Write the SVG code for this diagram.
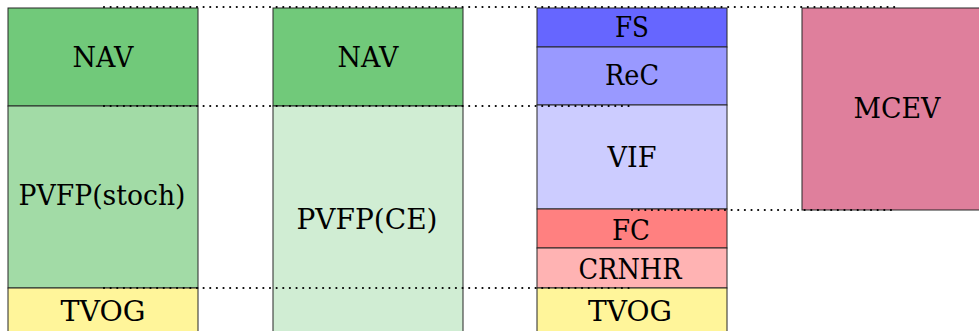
<svg xmlns="http://www.w3.org/2000/svg" width="979" height="331" viewBox="0 0 979 331">
<style>
.box{stroke:#262626;stroke-width:1}
.t{font-family:"DejaVu Serif",serif;font-size:27px;fill:#000;text-anchor:middle}
.dot{stroke:#000;stroke-width:2.2;stroke-dasharray:0 6.64;stroke-linecap:round;fill:none}
</style>
<rect width="979" height="331" fill="#fff"/>
<g id="col1-nav"><rect class="box" x="8" y="8" width="190" height="98" fill="#71C97A"/><text class="t" x="103" y="67" textLength="61" lengthAdjust="spacingAndGlyphs">NAV</text></g>
<g id="col1-pvfp"><rect class="box" x="8" y="106" width="190" height="182" fill="#A2DBA6"/><text class="t" x="102" y="205" textLength="167" lengthAdjust="spacingAndGlyphs">PVFP(stoch)</text></g>
<g id="col1-tvog"><rect class="box" x="8" y="288" width="190" height="60" fill="#FFF59A"/><text class="t" x="103" y="321" textLength="85" lengthAdjust="spacingAndGlyphs">TVOG</text></g>
<g id="col2-nav"><rect class="box" x="273" y="8" width="190" height="98" fill="#71C97A"/><text class="t" x="368" y="67" textLength="61" lengthAdjust="spacingAndGlyphs">NAV</text></g>
<g id="col2-pvfp"><rect class="box" x="273" y="106" width="190" height="242" fill="#D0EDD3"/><text class="t" x="367" y="229" textLength="141" lengthAdjust="spacingAndGlyphs">PVFP(CE)</text></g>
<g id="col3-fs"><rect class="box" x="537" y="8" width="190" height="39" fill="#6666FF"/><text class="t" x="632" y="37" textLength="34" lengthAdjust="spacingAndGlyphs">FS</text></g>
<g id="col3-rec"><rect class="box" x="537" y="47" width="190" height="58" fill="#9999FF"/><text class="t" x="632" y="85" textLength="54" lengthAdjust="spacingAndGlyphs">ReC</text></g>
<g id="col3-vif"><rect class="box" x="537" y="105" width="190" height="104" fill="#CCCCFF"/><text class="t" x="632" y="167" textLength="49" lengthAdjust="spacingAndGlyphs">VIF</text></g>
<g id="col3-fc"><rect class="box" x="537" y="209" width="190" height="39" fill="#FF8080"/><text class="t" x="631" y="240" textLength="38" lengthAdjust="spacingAndGlyphs">FC</text></g>
<g id="col3-crnhr"><rect class="box" x="537" y="248" width="190" height="40" fill="#FFB3B3"/><text class="t" x="630" y="279" textLength="103" lengthAdjust="spacingAndGlyphs">CRNHR</text></g>
<g id="col3-tvog"><rect class="box" x="537" y="288" width="190" height="60" fill="#FFF59A"/><text class="t" x="630" y="321" textLength="84" lengthAdjust="spacingAndGlyphs">TVOG</text></g>
<g id="col4-mcev"><rect class="box" x="802" y="8" width="190" height="202" fill="#DF7F9C"/><text class="t" x="897" y="118" textLength="87" lengthAdjust="spacingAndGlyphs">MCEV</text></g>
<g id="connectors">
<line class="dot" x1="104" y1="7" x2="896" y2="7"/>
<line class="dot" x1="104" y1="106" x2="630" y2="106"/>
<line class="dot" x1="632" y1="210" x2="896" y2="210"/>
<line class="dot" x1="104" y1="288" x2="632" y2="288"/>
</g>
</svg>
